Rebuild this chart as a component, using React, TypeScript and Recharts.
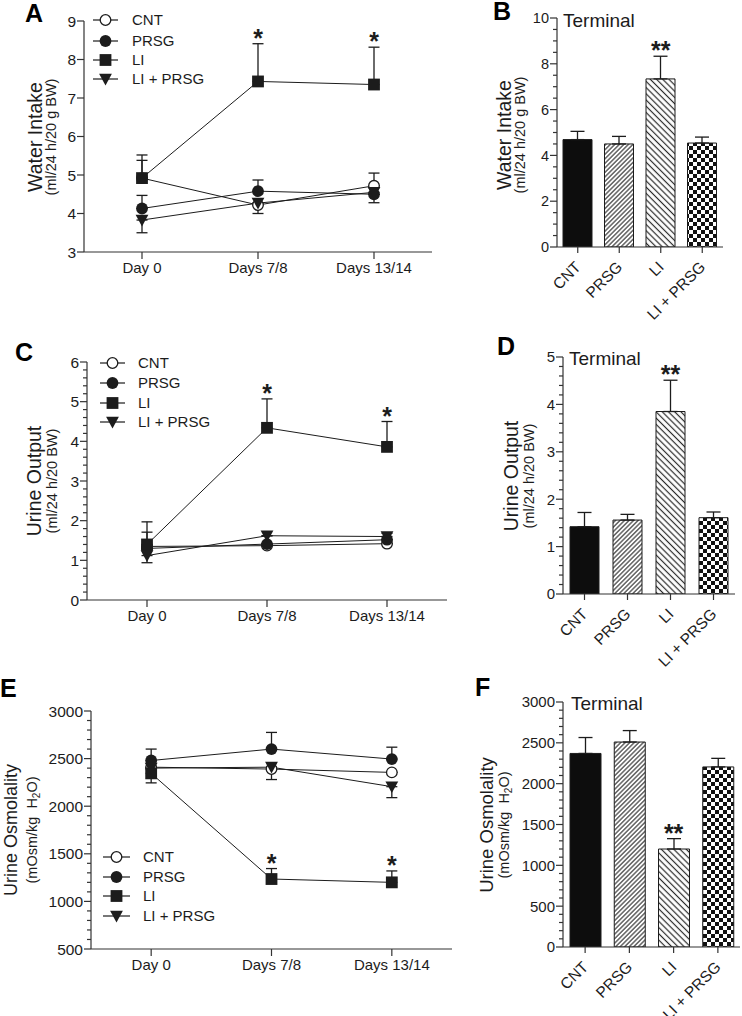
import React from 'react';
import { LineChart, ComposedChart, Line, Bar, Cell, XAxis, YAxis, ErrorBar } from 'recharts';

const FONT = '"Liberation Sans", Arial, Helvetica, sans-serif';
const INK = '#1c1c1c';
const AXIS = '#333333';

// ---------- categories ----------
const dayLabels = ['Day 0', 'Days 7/8', 'Days 13/14'];
const groupLabels = ['CNT', 'PRSG', 'LI', 'LI + PRSG'];
const seriesNames = ['CNT', 'PRSG', 'LI', 'LI + PRSG'];
const seriesMarkers = ['open', 'circle', 'square', 'triangle'];

// ---------- A: Water intake over time ----------
const waterCNT = [4.92, 4.22, 4.72];
const waterPRSG = [4.13, 4.58, 4.5];
const waterLI = [4.92, 7.43, 7.35];
const waterLIPRSG = [3.83, 4.27, 4.55];
const waterCNTErr = [[0, 0.6], [0.22, 0], [0, 0.33]];
const waterPRSGErr = [[0, 0.34], [0, 0.29], [0, 0]];
const waterLIErr = [[0, 0.46], [0, 0.98], [0, 0.97]];
const waterLIPRSGErr = [[0.33, 0], [0, 0], [0.27, 0]];
const waterSig = [null, '*', '*'];

// ---------- B: Water intake terminal ----------
const waterTerminal = [4.69, 4.5, 7.34, 4.54];
const waterTerminalErr = [0.36, 0.33, 0.99, 0.26];
const waterTerminalSig = [null, null, '**', null];

// ---------- C: Urine output over time ----------
const urineCNT = [1.35, 1.37, 1.42];
const urinePRSG = [1.3, 1.41, 1.52];
const urineLI = [1.4, 4.34, 3.86];
const urineLIPRSG = [1.12, 1.62, 1.6];
const urineCNTErr = [[0, 0.62], [0, 0], [0, 0]];
const urinePRSGErr = [[0, 0], [0, 0], [0, 0]];
const urineLIErr = [[0, 0.31], [0, 0.73], [0, 0.64]];
const urineLIPRSGErr = [[0.18, 0], [0, 0], [0, 0.08]];
const urineSig = [null, '*', '*'];

// ---------- D: Urine output terminal ----------
const urineTerminal = [1.42, 1.56, 3.85, 1.61];
const urineTerminalErr = [0.3, 0.12, 0.66, 0.12];
const urineTerminalSig = [null, null, '**', null];

// ---------- E: Urine osmolality over time ----------
const osmoCNT = [2410, 2390, 2355];
const osmoPRSG = [2480, 2600, 2495];
const osmoLI = [2345, 1235, 1200];
const osmoLIPRSG = [2400, 2410, 2205];
const osmoCNTErr = [[0, 0], [110, 0], [0, 0]];
const osmoPRSGErr = [[0, 120], [0, 175], [0, 125]];
const osmoLIErr = [[100, 0], [0, 110], [0, 120]];
const osmoLIPRSGErr = [[0, 0], [0, 0], [115, 0]];
const osmoSig = [null, '*', '*'];

// ---------- F: Urine osmolality terminal ----------
const osmoTerminal = [2370, 2510, 1200, 2205];
const osmoTerminalErr = [195, 140, 127, 105];
const osmoTerminalSig = [null, null, '**', null];

// ---------- tick labels ----------
const ticksA = [3, 4, 5, 6, 7, 8, 9];
const ticksB = [0, 2, 4, 6, 8, 10];
const ticksC = [0, 1, 2, 3, 4, 5, 6];
const ticksD = [0, 1, 2, 3, 4, 5];
const ticksE = [500, 1000, 1500, 2000, 2500, 3000];
const ticksF = [0, 500, 1000, 1500, 2000, 2500, 3000];

const barFills = ['#0d0d0d', 'url(#hatchPRSG)', 'url(#hatchLI)', 'url(#checker)'];

function withMinors(majors: number[], step: number | null) {
  if (!step) return majors;
  const out: number[] = [];
  const lo = majors[0];
  const hi = majors[majors.length - 1];
  const n = Math.round((hi - lo) / step);
  for (let i = 0; i <= n; i++) out.push(Math.round((lo + i * step) * 1000) / 1000);
  return out;
}

function buildLineRows(values: number[][], errs: number[][][], sig: (string | null)[]) {
  return dayLabels.map((day, i) => {
    const row: any = { day, sig: sig[i] };
    values.forEach((v, s) => {
      row['s' + s] = v[i];
      row['e' + s] = errs[s][i];
    });
    row.starAt = sig[i] ? values[2][i] + errs[2][i][1] : null;
    return row;
  });
}

function buildBarRows(values: number[], errs: number[], sig: (string | null)[]) {
  return groupLabels.map((group, i) => ({
    group,
    v: values[i],
    err: [0, errs[i]],
    sig: sig[i],
    starAt: sig[i] ? values[i] + errs[i] : null,
  }));
}

const dataA = buildLineRows(
  [waterCNT, waterPRSG, waterLI, waterLIPRSG],
  [waterCNTErr, waterPRSGErr, waterLIErr, waterLIPRSGErr],
  waterSig
);
const dataC = buildLineRows(
  [urineCNT, urinePRSG, urineLI, urineLIPRSG],
  [urineCNTErr, urinePRSGErr, urineLIErr, urineLIPRSGErr],
  urineSig
);
const dataE = buildLineRows(
  [osmoCNT, osmoPRSG, osmoLI, osmoLIPRSG],
  [osmoCNTErr, osmoPRSGErr, osmoLIErr, osmoLIPRSGErr],
  osmoSig
);
const dataB = buildBarRows(waterTerminal, waterTerminalErr, waterTerminalSig);
const dataD = buildBarRows(urineTerminal, urineTerminalErr, urineTerminalSig);
const dataF = buildBarRows(osmoTerminal, osmoTerminalErr, osmoTerminalSig);

// ---------- shapes ----------
function Marker({ kind, cx, cy }: { kind: string; cx: number; cy: number }) {
  if (cx == null || cy == null || isNaN(cx) || isNaN(cy)) return null;
  if (kind === 'open')
    return <circle cx={cx} cy={cy} r={5.3} fill="#fff" stroke={INK} strokeWidth={1.3} />;
  if (kind === 'circle') return <circle cx={cx} cy={cy} r={5.9} fill={INK} />;
  if (kind === 'square') return <rect x={cx - 5.9} y={cy - 5.9} width={11.8} height={11.8} fill={INK} />;
  return <path d={`M${cx - 6.4},${cy - 5.3} L${cx + 6.4},${cy - 5.3} L${cx},${cy + 6.4} Z`} fill={INK} />;
}

const makeYTick = (majors: number[], fontSize: number) => (p: any) => {
  const v = p.payload.value;
  const isMajor = majors.some((m) => Math.abs(m - v) < 1e-6);
  return (
    <g>
      <line x1={p.x - (isMajor ? 7 : 4)} x2={p.x} y1={p.y} y2={p.y} stroke={AXIS} strokeWidth={1.2} />
      {isMajor && (
        <text x={p.x - 8} y={p.y} dy="0.36em" textAnchor="end" fontSize={fontSize} fill={INK} fontFamily={FONT}>
          {v}
        </text>
      )}
    </g>
  );
};

const BarTick = (p: any) => {
  const ax = p.x + 4;
  const ay = p.y + 15;
  return (
    <text
      x={ax}
      y={ay}
      transform={`rotate(-45 ${ax} ${ay})`}
      textAnchor="end"
      fontSize={15.5}
      fill={INK}
      fontFamily={FONT}
    >
      {p.payload.value}
    </text>
  );
};

const makeStar = (sig: (string | null)[]) => (p: any) => {
  const idx = p.index;
  const text = sig[idx];
  const x = p.viewBox && p.viewBox.x != null ? p.viewBox.x : p.x;
  const y = p.viewBox && p.viewBox.y != null ? p.viewBox.y : p.y;
  if (!text || x == null || y == null || isNaN(x) || isNaN(y)) return null;
  return (
    <text key={'star' + idx} x={x} y={y + 3} textAnchor="middle" fontSize={25} fontWeight="bold" fill={INK} fontFamily={FONT}>
      {text}
    </text>
  );
};

type Plot = { x0: number; y0: number; x1: number; y1: number };

function geom(plot: Plot, xAxisH: number) {
  const YW = 60, ML = 4, MT = 12, MR = 6, MB = 10;
  const left = plot.x0 - YW - ML;
  const top = plot.y0 - MT;
  const width = plot.x1 + MR - left;
  const height = plot.y1 + xAxisH + MB - top;
  return { left, top, width, height, margin: { top: MT, right: MR, bottom: MB, left: ML } };
}

function LinePanel({ plot, data, majors, minor, sig }: { plot: Plot; data: any[]; majors: number[]; minor: number | null; sig: (string | null)[] }) {
  const g = geom(plot, 30);
  const pad = (plot.x1 - plot.x0) / 6;
  return (
    <div style={{ position: 'absolute', left: g.left, top: g.top }}>
      <LineChart width={g.width} height={g.height} margin={g.margin} data={data}>
        <XAxis
          dataKey="day"
          type="category"
          scale="point"
          padding={{ left: pad, right: pad }}
          interval={0}
          height={30}
          tickSize={7}
          tickMargin={3}
          tick={{ fontSize: 15, fill: INK, fontFamily: FONT }}
          tickLine={{ stroke: AXIS, strokeWidth: 1.2 }}
          axisLine={{ stroke: AXIS, strokeWidth: 1.2 }}
        />
        <YAxis
          type="number"
          domain={[majors[0], majors[majors.length - 1]]}
          ticks={withMinors(majors, minor)}
          interval={0}
          allowDataOverflow
          width={60}
          tickSize={0}
          tickMargin={0}
          tickLine={false}
          tick={makeYTick(majors, 15.5)}
          axisLine={{ stroke: AXIS, strokeWidth: 1.2 }}
        />
        {seriesMarkers.map((kind, i) => (
          <Line
            key={'s' + i}
            dataKey={'s' + i}
            name={seriesNames[i]}
            stroke={INK}
            strokeWidth={1}
            isAnimationActive={false}
            activeDot={false}
            dot={(p: any) => <Marker key={'m' + i + '-' + p.index} kind={kind} cx={p.cx} cy={p.cy} />}
          >
            <ErrorBar dataKey={'e' + i} width={5.5} direction="y" stroke={INK} strokeWidth={1.3} />
          </Line>
        ))}
        <Line
          dataKey="starAt"
          stroke="none"
          dot={false}
          activeDot={false}
          isAnimationActive={false}
          label={makeStar(sig)}
        />
      </LineChart>
    </div>
  );
}

function BarPanel({ plot, data, majors, minor, sig, barSize, tickFont }: { plot: Plot; data: any[]; majors: number[]; minor: number | null; sig: (string | null)[]; barSize: number; tickFont: number }) {
  const g = geom(plot, 80);
  return (
    <div style={{ position: 'absolute', left: g.left, top: g.top }}>
      <ComposedChart width={g.width} height={g.height} margin={g.margin} data={data}>
        <XAxis
          dataKey="group"
          type="category"
          interval={0}
          height={80}
          tickSize={6}
          tickMargin={0}
          tick={BarTick}
          tickLine={{ stroke: AXIS, strokeWidth: 1.2 }}
          axisLine={{ stroke: AXIS, strokeWidth: 1.2 }}
        />
        <YAxis
          type="number"
          domain={[majors[0], majors[majors.length - 1]]}
          ticks={withMinors(majors, minor)}
          interval={0}
          allowDataOverflow
          width={60}
          tickSize={0}
          tickMargin={0}
          tickLine={false}
          tick={makeYTick(majors, tickFont)}
          axisLine={{ stroke: AXIS, strokeWidth: 1.2 }}
        />
        <Bar dataKey="v" barSize={barSize} stroke={INK} strokeWidth={1} isAnimationActive={false}>
          {data.map((_, i) => (
            <Cell key={'c' + i} fill={barFills[i]} />
          ))}
          <ErrorBar dataKey="err" width={7} direction="y" stroke={INK} strokeWidth={1.3} />
        </Bar>
        <Line
          dataKey="starAt"
          stroke="none"
          dot={false}
          activeDot={false}
          isAnimationActive={false}
          label={makeStar(sig)}
        />
      </ComposedChart>
    </div>
  );
}

function RotText({ x, y, size, children }: { x: number; y: number; size: number; children: React.ReactNode }) {
  return (
    <text
      x={x}
      y={y}
      transform={`rotate(-90 ${x} ${y})`}
      textAnchor="middle"
      fontSize={size}
      fill={INK}
      fontFamily={FONT}
      style={{ whiteSpace: 'pre' }}
    >
      {children}
    </text>
  );
}

function LegendBlock({ lx0, lx1, tx, rows }: { lx0: number; lx1: number; tx: number; rows: number[] }) {
  const mx = (lx0 + lx1) / 2;
  return (
    <g>
      {seriesNames.map((name, i) => (
        <g key={name}>
          <line x1={lx0} x2={lx1} y1={rows[i]} y2={rows[i]} stroke={INK} strokeWidth={1.2} />
          <Marker kind={seriesMarkers[i]} cx={mx} cy={rows[i]} />
          <text x={tx} y={rows[i]} dy="0.36em" fontSize={15} fill={INK} fontFamily={FONT}>
            {name}
          </text>
        </g>
      ))}
    </g>
  );
}

function Letter({ x, y, t }: { x: number; y: number; t: string }) {
  return (
    <text x={x} y={y} fontSize={25} fontWeight="bold" fill="#000" fontFamily={FONT}>
      {t}
    </text>
  );
}

function Terminal({ x, y }: { x: number; y: number }) {
  return (
    <text x={x} y={y} fontSize={19} fill={INK} fontFamily={FONT}>
      Terminal
    </text>
  );
}

const plotA = { x0: 84, y0: 21, x1: 432, y1: 252 };
const plotB = { x0: 557, y0: 18, x1: 723, y1: 247 };
const plotC = { x0: 87, y0: 362, x1: 447, y1: 600 };
const plotD = { x0: 563, y0: 357, x1: 735, y1: 594 };
const plotE = { x0: 91, y0: 711, x1: 452, y1: 949 };
const plotF = { x0: 563, y0: 702, x1: 740, y1: 947 };

export default function App() {
  return (
    <div
      style={{
        position: 'absolute',
        left: 0,
        top: 0,
        width: 742,
        height: 1016,
        overflow: 'hidden',
        background: '#fff',
        fontFamily: FONT,
      }}
    >
      <svg width={0} height={0} style={{ position: 'absolute' }}>
        <defs>
          <pattern id="hatchPRSG" patternUnits="userSpaceOnUse" width={3.2} height={3.2} patternTransform="rotate(45)">
            <rect width={3.2} height={3.2} fill="#fff" />
            <line x1={1.6} y1={0} x2={1.6} y2={3.2} stroke="#2a2a2a" strokeWidth={1.1} />
          </pattern>
          <pattern id="hatchLI" patternUnits="userSpaceOnUse" width={4.4} height={4.4} patternTransform="rotate(-45)">
            <rect width={4.4} height={4.4} fill="#fff" />
            <line x1={2.2} y1={0} x2={2.2} y2={4.4} stroke="#2a2a2a" strokeWidth={1.2} />
          </pattern>
          <pattern id="checker" patternUnits="userSpaceOnUse" width={8} height={8}>
            <rect width={8} height={8} fill="#fff" />
            <rect x={0} y={0} width={4} height={4} fill="#111" />
            <rect x={4} y={4} width={4} height={4} fill="#111" />
          </pattern>
        </defs>
      </svg>

      <LinePanel plot={plotA} data={dataA} majors={ticksA} minor={null} sig={waterSig} />
      <BarPanel plot={plotB} data={dataB} majors={ticksB} minor={0.5} sig={waterTerminalSig} barSize={29} tickFont={14.5} />
      <LinePanel plot={plotC} data={dataC} majors={ticksC} minor={0.2} sig={urineSig} />
      <BarPanel plot={plotD} data={dataD} majors={ticksD} minor={0.2} sig={urineTerminalSig} barSize={29} tickFont={15} />
      <LinePanel plot={plotE} data={dataE} majors={ticksE} minor={100} sig={osmoSig} />
      <BarPanel plot={plotF} data={dataF} majors={ticksF} minor={100} sig={osmoTerminalSig} barSize={31} tickFont={15} />

      <svg width={742} height={1016} style={{ position: 'absolute', left: 0, top: 0, pointerEvents: 'none' }}>
        <Letter x={25} y={22} t="A" />
        <Letter x={493} y={20} t="B" />
        <Letter x={15} y={361} t="C" />
        <Letter x={497} y={355} t="D" />
        <Letter x={0} y={697} t="E" />
        <Letter x={475} y={696} t="F" />

        <RotText x={42} y={137} size={19.5}>Water Intake</RotText>
        <RotText x={56} y={137} size={14.5}>(ml/24 h/20 g BW)</RotText>
        <RotText x={511} y={135} size={19.5}>Water Intake</RotText>
        <RotText x={525} y={135} size={14.5}>(ml/24 h/20 g BW)</RotText>

        <RotText x={41} y={481} size={19.5}>Urine Output</RotText>
        <RotText x={57} y={481} size={14.5}>(ml/24 h/20 BW)</RotText>
        <RotText x={518} y={476} size={19.5}>Urine Output</RotText>
        <RotText x={534} y={476} size={14.5}>(ml/24 h/20 BW)</RotText>

        <RotText x={17} y={830} size={18}>Urine Osmolality</RotText>
        <RotText x={37} y={830} size={14.5}>
          {'(mOsm/kg  H'}
          <tspan dy={3} fontSize={10}>2</tspan>
          <tspan dy={-3}>O)</tspan>
        </RotText>
        <RotText x={493} y={825} size={18.5}>Urine Osmolality</RotText>
        <RotText x={509} y={825} size={14.5}>
          {'(mOsm/kg  H'}
          <tspan dy={3} fontSize={10}>2</tspan>
          <tspan dy={-3}>O)</tspan>
        </RotText>

        <Terminal x={563} y={27} />
        <Terminal x={569} y={365} />
        <Terminal x={571} y={710} />

        <LegendBlock lx0={93} lx1={118} tx={132} rows={[20, 41, 60, 79]} />
        <LegendBlock lx0={100} lx1={125} tx={138} rows={[363, 383, 403, 422]} />
        <LegendBlock lx0={103} lx1={130} tx={143} rows={[857, 877, 896, 916]} />
      </svg>
    </div>
  );
}
